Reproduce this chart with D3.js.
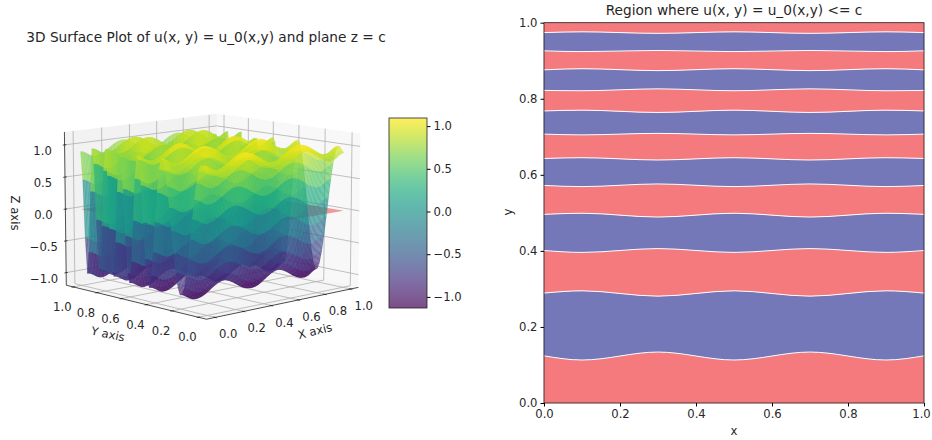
<!DOCTYPE html>
<html>
<head>
<meta charset="utf-8">
<script src="https://cdn.jsdelivr.net/npm/d3@7"></script>
<style>
body { margin: 0; background: #fff; }
text { font-family: "DejaVu Sans", sans-serif; fill: #262626; }
</style>
</head>
<body>
<div id="chart"></div>
<script>
// ticks
var tickVals = [0, 0.2, 0.4, 0.6, 0.8, 1];
var zTicks = [-1, -0.5, 0, 0.5, 1];

// surface: ridge/valley heights along y, ripple along x
var profileY = [0, 0.04, 0.2, 0.345, 0.45, 0.535, 0.607, 0.675, 0.737, 0.795, 0.849, 0.901, 0.95, 1];
var profileZ = [0.9, 1, -1, 1, -1, 1, -1, 1, -1, 1, -1, 1, -1, 0.9];
var rippleX = [0, 0.1, 0.3, 0.5, 0.7, 0.9, 1];
var rippleZ = [0, -0.1, 0.1, -0.1, 0.1, -0.1, 0];
var planeZ = 0;

// boundary curves of the right panel, y value at each contourX
var contourX = [0, 0.1, 0.3, 0.5, 0.7, 0.9, 1];
var contours = [
	[0.124, 0.113, 0.134, 0.113, 0.134, 0.113, 0.124],
	[0.289, 0.295, 0.281, 0.295, 0.281, 0.295, 0.289],
	[0.401, 0.396, 0.406, 0.396, 0.406, 0.396, 0.401],
	[0.496, 0.499, 0.489, 0.499, 0.489, 0.499, 0.496],
	[0.572, 0.569, 0.576, 0.569, 0.576, 0.569, 0.572],
	[0.643, 0.645, 0.639, 0.645, 0.639, 0.645, 0.643],
	[0.707, 0.705, 0.709, 0.705, 0.709, 0.705, 0.707],
	[0.768, 0.770, 0.764, 0.770, 0.764, 0.770, 0.768],
	[0.822, 0.821, 0.826, 0.821, 0.826, 0.821, 0.822],
	[0.876, 0.879, 0.874, 0.879, 0.874, 0.879, 0.876],
	[0.926, 0.924, 0.927, 0.924, 0.927, 0.924, 0.926],
	[0.974, 0.976, 0.972, 0.976, 0.972, 0.976, 0.974]
];
var bandColors = ["#f47a7e", "#7477b8"];

var tickFont = 11.6, titleFont = 13.7;

var svg = d3.select("#chart").append("svg")
	.attr("width", 932)
	.attr("height", 440);

// ---------- 3D panel ----------
var xLim = [-0.06, 1.06], yLim = [-0.06, 1.06], zLim = [-1.2, 1.2];
var elev = 10 * Math.PI / 180, azim = -133 * Math.PI / 180;
var scaleS = 208, cx = 212, cy = 210, dist = 10;

var camDir = [Math.cos(elev) * Math.cos(azim), Math.cos(elev) * Math.sin(azim), Math.sin(elev)];
var right = [-Math.sin(azim), Math.cos(azim), 0];
var up = [-Math.sin(elev) * Math.cos(azim), -Math.sin(elev) * Math.sin(azim), Math.cos(elev)];

var xN = d3.scaleLinear().domain(xLim).range([-0.5, 0.5]);
var yN = d3.scaleLinear().domain(yLim).range([-0.5, 0.5]);
var zN = d3.scaleLinear().domain(zLim).range([-0.375, 0.375]);

function dot(a, b) {
	return a[0] * b[0] + a[1] * b[1] + a[2] * b[2];
}

// same idea as mplot3d: perspective with focal length 1
function project(x, y, z) {
	var p = [xN(x), yN(y), zN(z)];
	var k = dist / (dist - dot(p, camDir));
	return [cx + dot(p, right) * k * scaleS, cy - dot(p, up) * k * scaleS, dot(p, camDir)];
}

function polyPath(pts) {
	return "M" + pts.map(function(p) {
		var q = project(p[0], p[1], p[2]);
		return q[0].toFixed(2) + "," + q[1].toFixed(2);
	}).join("L") + "Z";
}

// eased between the read knots
function knotValue(xs, zs, v) {
	var i = Math.min(d3.bisectRight(xs, v), xs.length - 1);
	var t = (v - xs[i - 1]) / (xs[i] - xs[i - 1]);
	return zs[i - 1] + (zs[i] - zs[i - 1]) * d3.easeSinInOut(t);
}

function surfaceZ(x, y) {
	return knotValue(profileY, profileZ, y) + knotValue(rippleX, rippleZ, x);
}

var panes = svg.append("g");
var x0 = xLim[0], x1 = xLim[1], y0 = yLim[0], y1 = yLim[1], z0 = zLim[0], z1 = zLim[1];
panes.append("path").attr("d", polyPath([[x0, y0, z0], [x1, y0, z0], [x1, y1, z0], [x0, y1, z0]]))
	.attr("fill", "rgb(236,236,236)").attr("fill-opacity", 0.5);
panes.append("path").attr("d", polyPath([[x0, y1, z0], [x1, y1, z0], [x1, y1, z1], [x0, y1, z1]]))
	.attr("fill", "rgb(230,230,230)").attr("fill-opacity", 0.5);
panes.append("path").attr("d", polyPath([[x1, y0, z0], [x1, y1, z0], [x1, y1, z1], [x1, y0, z1]]))
	.attr("fill", "rgb(242,242,242)").attr("fill-opacity", 0.5);

var grid = svg.append("g").attr("fill", "none").attr("stroke", "#b0b0b0").attr("stroke-width", 0.8);
function openPath(pts) {
	return polyPath(pts).replace("Z", "");
}
tickVals.forEach(function(t) {
	grid.append("path").attr("d", openPath([[t, y0, z0], [t, y1, z0], [t, y1, z1]]));
	grid.append("path").attr("d", openPath([[x0, t, z0], [x1, t, z0], [x1, t, z1]]));
});
zTicks.forEach(function(t) {
	grid.append("path").attr("d", openPath([[x0, y1, t], [x1, y1, t], [x1, y0, t]]));
});

// plane z = c, drawn before the surface
svg.append("path")
	.attr("d", polyPath([[0, 0, planeZ], [1, 0, planeZ], [1, 1, planeZ], [0, 1, planeZ]]))
	.attr("fill", "#e8353b")
	.attr("fill-opacity", 0.5);

// coarser rows along y (the banding in the picture), fine columns along x
var zColor = d3.scaleSequential(d3.interpolateViridis).domain([-1.13, 1.095]);
var xSteps = d3.range(100).map(function(i) { return i / 99; });
var ySteps = d3.range(64).map(function(i) { return i / 63; });
var faces = [];
for (var i = 0; i < xSteps.length - 1; i++) {
	for (var j = 0; j < ySteps.length - 1; j++) {
		var pts = [[xSteps[i], ySteps[j]], [xSteps[i + 1], ySteps[j]], [xSteps[i + 1], ySteps[j + 1]], [xSteps[i], ySteps[j + 1]]]
			.map(function(p) { return [p[0], p[1], surfaceZ(p[0], p[1])]; });
		faces.push({
			pts: pts,
			z: d3.mean(pts, function(p) { return p[2]; }),
			depth: d3.mean(pts, function(p) { return project(p[0], p[1], p[2])[2]; })
		});
	}
}
faces.sort(function(a, b) { return d3.ascending(a.depth, b.depth); });
svg.append("g").selectAll("path")
	.data(faces)
	.enter()
	.append("path")
	.attr("d", function(d) { return polyPath(d.pts); })
	.attr("fill", function(d) { return zColor(d.z); })
	.attr("fill-opacity", 0.7)
	.attr("stroke", function(d) { return zColor(d.z); })
	.attr("stroke-opacity", 0.25)
	.attr("stroke-width", 0.3);

// 3D axes lines, ticks, labels
var axes3d = svg.append("g");
function seg(a, b) {
	axes3d.append("path").attr("d", openPath([a, b])).attr("stroke", "#222").attr("stroke-width", 0.8).attr("fill", "none");
}
seg([x0, y0, z0], [x1, y0, z0]);
seg([x0, y0, z0], [x0, y1, z0]);
seg([x0, y1, z0], [x0, y1, z1]);

var fmt = d3.format(".1f");
function label3d(p, dx, dy, txt) {
	var q = project(p[0], p[1], p[2]);
	axes3d.append("text").attr("x", q[0] + dx).attr("y", q[1] + dy)
		.attr("text-anchor", "middle").attr("font-size", tickFont).attr("dy", "0.35em")
		.text(txt.replace("-", "\u2212"));
}
tickVals.forEach(function(t) {
	seg([t, y0 - 0.012, z0], [t, y0 + 0.012, z0]);
	seg([x0 - 0.012, t, z0], [x0 + 0.012, t, z0]);
	label3d([t, y0, z0], 13, 17, fmt(t));
	label3d([x0, t, z0], -11, 20, fmt(t));
});
zTicks.forEach(function(t) {
	seg([x0 - 0.012, y1, t], [x0 + 0.012, y1, t]);
	label3d([x0, y1, t], -22, 6, fmt(t));
});

function rotText(x, y, rot, txt) {
	axes3d.append("text")
		.attr("transform", "translate(" + x + "," + y + ") rotate(" + rot + ")")
		.attr("text-anchor", "middle").attr("dy", "0.35em").attr("font-size", tickFont)
		.text(txt);
}
rotText(315, 331, -14, "X axis");
rotText(108, 334, 12, "Y axis");
rotText(15, 213, 90, "Z axis");

svg.append("text").attr("x", 206).attr("y", 37).attr("text-anchor", "middle")
	.attr("dy", "0.35em").attr("font-size", titleFont)
	.text("3D Surface Plot of u(x, y) = u_0(x,y) and plane z = c");

// colorbar
var barY = d3.scaleLinear().domain([-1.13, 1.095]).range([308, 118]);
var defs = svg.append("defs");
var grad = defs.append("linearGradient").attr("id", "viridisBar")
	.attr("x1", 0).attr("y1", 1).attr("x2", 0).attr("y2", 0);
d3.range(0, 1.001, 0.05).forEach(function(t) {
	grad.append("stop").attr("offset", t).attr("stop-color", d3.interpolateViridis(t)).attr("stop-opacity", 0.7);
});
svg.append("rect").attr("x", 389).attr("y", 118).attr("width", 38).attr("height", 190)
	.attr("fill", "url(#viridisBar)").attr("stroke", "#222").attr("stroke-width", 0.8);
var barAxis = svg.append("g").attr("transform", "translate(427,0)")
	.call(d3.axisRight(barY).tickValues(zTicks).tickFormat(function(d) {
		return fmt(d).replace("-", "\u2212");
	}).tickSize(3.5).tickPadding(3));
barAxis.select(".domain").remove();

// ---------- region panel ----------
var rx = d3.scaleLinear().domain([0, 1]).range([544, 924]);
var ry = d3.scaleLinear().domain([0, 1]).range([403, 22.7]);

var floorLine = contourX.map(function() { return 0; });
var ceilLine = contourX.map(function() { return 1; });
var edges = [floorLine].concat(contours, [ceilLine]);
var bands = d3.range(edges.length - 1).map(function(i) {
	return { lo: edges[i], hi: edges[i + 1], color: bandColors[i % 2] };
});

var area = d3.area()
	.x(function(d) { return rx(d.x); })
	.y0(function(d) { return ry(d.lo); })
	.y1(function(d) { return ry(d.hi); })
	.curve(d3.curveMonotoneX);

svg.append("g").selectAll("path")
	.data(bands)
	.enter()
	.append("path")
	.attr("d", function(b) {
		return area(contourX.map(function(x, k) { return { x: x, lo: b.lo[k], hi: b.hi[k] }; }));
	})
	.attr("fill", function(b) { return b.color; })
	.attr("stroke", function(b) { return b.color; })
	.attr("stroke-width", 0.4);

var line = d3.line()
	.x(function(d, k) { return rx(contourX[k]); })
	.y(function(d) { return ry(d); })
	.curve(d3.curveMonotoneX);

svg.append("g").selectAll("path")
	.data(contours)
	.enter()
	.append("path")
	.attr("d", line)
	.attr("fill", "none")
	.attr("stroke", "#fff")
	.attr("stroke-width", 1);

svg.append("rect").attr("x", 544).attr("y", 22.7).attr("width", 380).attr("height", 380.3)
	.attr("fill", "none").attr("stroke", "#222").attr("stroke-width", 0.8);

var gx = svg.append("g").attr("transform", "translate(0,403)")
	.call(d3.axisBottom(rx).tickValues(tickVals).tickFormat(fmt).tickSize(3.5).tickPadding(3));
var gy = svg.append("g").attr("transform", "translate(544,0)")
	.call(d3.axisLeft(ry).tickValues(tickVals).tickFormat(fmt).tickSize(3.5).tickPadding(3));
gx.select(".domain").remove();
gy.select(".domain").remove();
svg.selectAll(".tick text")
	.attr("font-size", tickFont).style("font-family", "DejaVu Sans");
// the last x label would run off the page
gx.selectAll(".tick text").filter(function(d) { return d === 1; }).attr("dx", -3);

svg.append("text").attr("x", 734).attr("y", 10).attr("text-anchor", "middle").attr("dy", "0.35em")
	.attr("font-size", titleFont).text("Region where u(x, y) = u_0(x,y) <= c");
svg.append("text").attr("x", 734).attr("y", 431).attr("text-anchor", "middle").attr("dy", "0.35em")
	.attr("font-size", tickFont).text("x");
svg.append("text").attr("transform", "translate(508,212) rotate(-90)").attr("text-anchor", "middle").attr("dy", "0.35em")
	.attr("font-size", tickFont).text("y");
</script>
</body>
</html>
